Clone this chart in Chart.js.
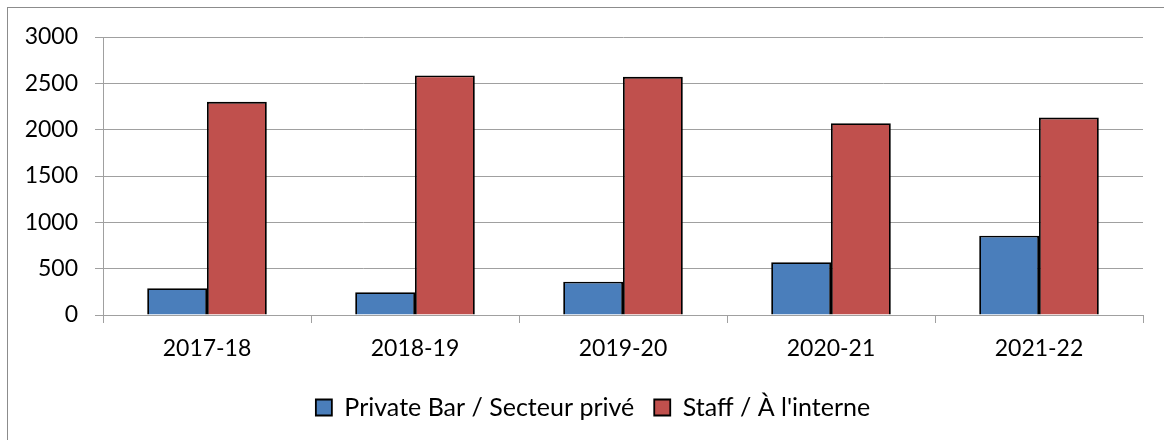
<!DOCTYPE html>
<html>
<head>
<meta charset="utf-8">
<script src="https://cdn.jsdelivr.net/npm/chart.js@4"></script>
<style>
  body { margin: 0; background: #fff; }
  #wrap { position: relative; width: 1164px; height: 440px; }
  #frame { position: absolute; left: 7px; top: 7px; right: -5px; bottom: -5px;
           border-left: 1px solid #8c8c8c; border-top: 1px solid #8c8c8c; pointer-events: none; }
  canvas { position: absolute; left: 0; top: 0; }
</style>
</head>
<body>
<div id="wrap">
  <canvas id="chart" width="1164" height="440"></canvas>
  <div id="frame"></div>
</div>
<script>
// Données
const years = ['2017-18', '2018-19', '2019-20', '2020-21', '2021-22'];
const privateBar = [290, 245, 360, 570, 855];
const staff = [2300, 2585, 2570, 2070, 2130];
const yTicks = [0, 500, 1000, 1500, 2000, 2500, 3000];

const gridGray = '#a0a0a0';
const fontFamily = 'Lato, "Liberation Sans", sans-serif';

// Décaler la légende vers la droite, comme dans l'original
const legendShift = {
    id: 'legendShift',
    afterLayout(chart) {
        chart.legend.left += 43;
    }
};

const ctx = document.getElementById('chart').getContext('2d');
new Chart(ctx, {
    type: 'bar',
    data: {
        labels: years,
        datasets: [{
            label: 'Private Bar / Secteur privé',
            data: privateBar,
            backgroundColor: '#4a7ebb',
            borderColor: '#000',
            borderWidth: 1.8,
            categoryPercentage: 0.575,
            barPercentage: 1
        }, {
            label: "Staff / À l'interne",
            data: staff,
            backgroundColor: '#c0504d',
            borderColor: '#000',
            borderWidth: 1.8,
            categoryPercentage: 0.575,
            barPercentage: 1
        }]
    },
    options: {
        responsive: false,
        animation: false,
        layout: {
            padding: { top: 37, right: 21, bottom: 10, left: 0 }
        },
        plugins: {
            legend: {
                position: 'bottom',
                labels: {
                    boxWidth: 16,
                    boxHeight: 16,
                    padding: 20,
                    color: '#000',
                    font: { family: fontFamily, size: 25 }
                }
            },
            tooltip: { enabled: false }
        },
        scales: {
            x: {
                grid: {
                    offset: true,
                    tickLength: 8,
                    color: c => (c.index === years.length ? gridGray : 'rgba(0,0,0,0)'),
                    tickColor: gridGray
                },
                border: { color: gridGray },
                ticks: {
                    padding: 12,
                    color: '#000',
                    font: { family: fontFamily, size: 23 }
                },
                afterFit: scale => { scale.height = 60; }
            },
            y: {
                min: 0,
                max: 3000,
                afterBuildTicks: scale => {
                    scale.ticks = yTicks.map(v => ({ value: v }));
                },
                grid: {
                    tickLength: 8,
                    color: gridGray,
                    tickColor: gridGray
                },
                border: { color: gridGray },
                ticks: {
                    padding: 17,
                    color: '#000',
                    font: { family: fontFamily, size: 23 },
                    callback: value => String(value)
                },
                afterFit: scale => { scale.width = 103; }
            }
        }
    },
    plugins: [legendShift]
});
</script>
</body>
</html>
